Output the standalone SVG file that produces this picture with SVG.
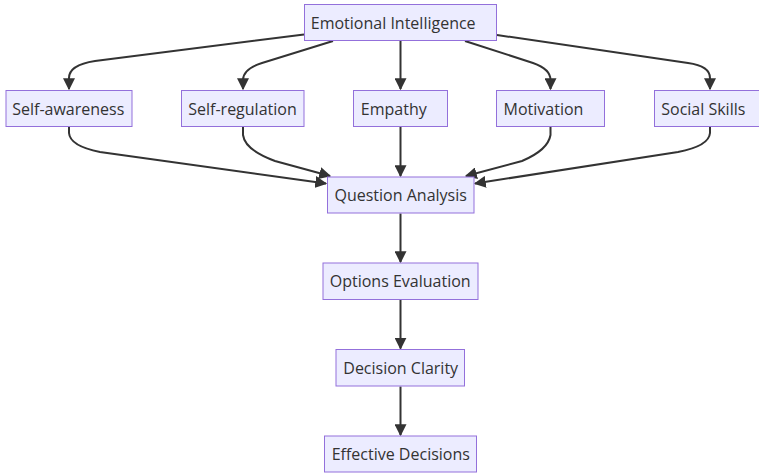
<svg xmlns="http://www.w3.org/2000/svg" width="759" height="473" viewBox="0 0 759 473">
<style>
.node rect{fill:#ECECFF;stroke:#9370DB;stroke-width:1}
.node text{font-family:"Open Sans","DejaVu Sans",sans-serif;font-size:16px;fill:#333;text-anchor:middle;dominant-baseline:central}
.edges path{fill:none;stroke:#333;stroke-width:2;marker-end:url(#arrow)}
</style>
<defs>
<marker id="arrow" viewBox="0 0 10 10" refX="9" refY="5" markerWidth="12" markerHeight="12" markerUnits="userSpaceOnUse" orient="auto">
<path d="M0,0 L10,5 L0,10 z" fill="#333"/>
</marker>
</defs>
<rect width="759" height="473" fill="#fff"/>
<g class="edges">
<path d="M304,34.5 L95,61 Q69,65 69,78 L69,89"/>
<path d="M333,41 L262,63 Q243,69 243,80 L243,89"/>
<path d="M400.5,41 L400.5,89"/>
<path d="M465,41 L533,63 Q550.5,69 550.5,80 L550.5,89"/>
<path d="M497,35 L688,63 Q710,66 710,78 L710,89"/>
<path d="M69,127 L69,133 Q70,146 100,152 L326,183.5"/>
<path d="M243,127 L243,135 Q245,150 275,161 L330,176"/>
<path d="M400.5,127 L400.5,176"/>
<path d="M550.5,127 L550.5,135 Q548,150 522,161 L466,176"/>
<path d="M710,127 L710,133 Q709,146 678,152 L475,183.5"/>
<path d="M400.5,213.5 L400.5,262"/>
<path d="M400.5,300 L400.5,348.5"/>
<path d="M400.5,386.5 L400.5,435"/>
</g>
<g id="n-ei" class="node"><rect x="304.5" y="4.5" width="192" height="36"/><text x="393.2" y="22.5">Emotional Intelligence</text></g>
<g id="n-sa" class="node"><rect x="6" y="90.5" width="126" height="36"/><text x="68.3" y="108.5">Self-awareness</text></g>
<g id="n-sr" class="node"><rect x="181.5" y="90.5" width="122.5" height="36"/><text x="242.5" y="108.5">Self-regulation</text></g>
<g id="n-em" class="node"><rect x="353.5" y="90.5" width="94" height="36"/><text x="393.8" y="108.5">Empathy</text></g>
<g id="n-mo" class="node"><rect x="496.5" y="90.5" width="108" height="36"/><text x="543.5" y="108.5">Motivation</text></g>
<g id="n-ss" class="node"><rect x="654.5" y="90.5" width="110" height="36"/><text x="703.3" y="108.5">Social Skills</text></g>
<g id="n-qa" class="node"><rect x="327.5" y="177" width="146.5" height="36"/><text x="400.7" y="195">Question Analysis</text></g>
<g id="n-oe" class="node"><rect x="323" y="263" width="155" height="36.5"/><text x="400.2" y="281.3">Options Evaluation</text></g>
<g id="n-dc" class="node"><rect x="336" y="349.5" width="128.5" height="36.5"/><text x="400.7" y="367.7">Decision Clarity</text></g>
<g id="n-ed" class="node"><rect x="324.5" y="436" width="152" height="36"/><text x="400.8" y="454">Effective Decisions</text></g>
</svg>
